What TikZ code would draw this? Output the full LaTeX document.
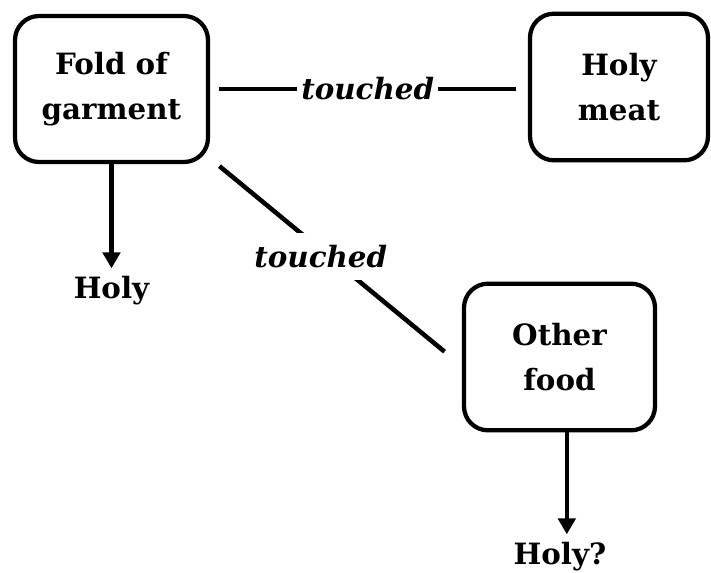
\documentclass[tikz,border=0pt]{standalone}
\usepackage{fontspec}
\setmainfont{DejaVu Serif}
\usetikzlibrary{arrows.meta}

\begin{document}
\begin{tikzpicture}[x=0.75pt,y=-0.75pt,
  every node/.style={font=\fontsize{22}{34}\selectfont\bfseries},
  box/.style={draw,line width=3.2pt,rounded corners=18pt,align=center,inner sep=0pt},
  lbl/.style={inner sep=6pt},
  rel/.style={fill=white,inner xsep=3pt,inner ysep=9pt,font=\fontsize{22}{34}\selectfont\bfseries\itshape},
  arr/.style={line width=3.2pt,-{Triangle[width=13pt,length=12pt]}},
  con/.style={line width=3.4pt}]
\useasboundingbox (0,0) rectangle (711,572);
% boxes
\node[box,minimum width=144.75pt,minimum height=109.5pt] (fold) at (111.5,89) {Fold of\\garment};
\node[box,minimum width=133.5pt,minimum height=110pt] (meat) at (619,87) {Holy\\meat};
\node[box,minimum width=143.25pt,minimum height=110pt] (other) at (559.5,357) {Other\\food};
% results
\node[lbl] (holy) at (111.5,291) {Holy};
\node[lbl] (holyq) at (560,557) {Holy?};
% connections
\draw[con] ([xshift=7pt]fold.east) -- node[rel] {touched} ([xshift=-9pt]meat.west |- fold.east);
\draw[con] ([shift={(7pt,-1.5pt)}]fold.south east) -- node[rel,pos=0.45,yshift=-5pt] {touched} ([shift={(-13pt,4pt)}]other.west);
\draw[arr] (fold.south) -- (holy.north);
\draw[arr] ([xshift=5.5pt]other.south) -- ([xshift=5.5pt]other.south |- holyq.north);
\end{tikzpicture}
\end{document}
